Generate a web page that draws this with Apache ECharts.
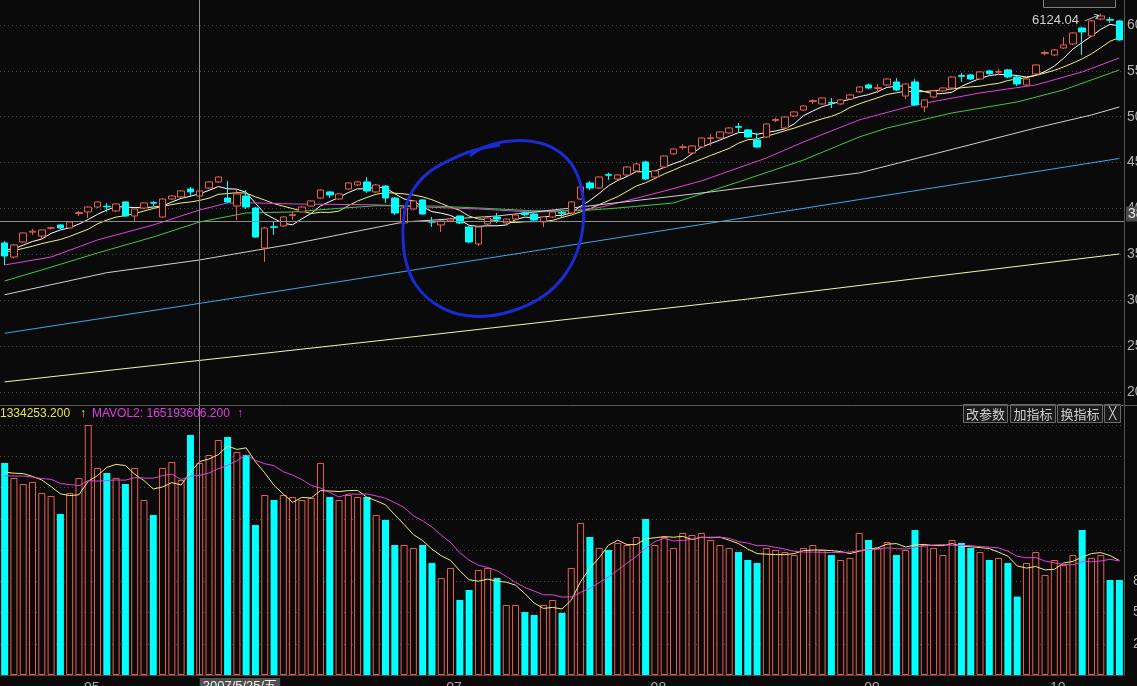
<!DOCTYPE html>
<html>
<head>
<meta charset="utf-8">
<script src="https://cdn.jsdelivr.net/npm/echarts@6/dist/echarts.min.js"></script>
<style>html,body{margin:0;padding:0;background:#0a0a0a;overflow:hidden}#c{width:1137px;height:686px}</style>
</head>
<body>
<div id="c"></div>
<script>
// ---------- data ----------
const tradingDays = [
  ['2007-04', [19,20,23,24,25,26,27,30]],
  ['2007-05', [8,9,10,11,14,15,16,17,18,21,22,23,24,25,28,29,30,31]],
  ['2007-06', [1,4,5,6,7,8,11,12,13,14,15,18,19,20,21,22,25,26,27,28,29]],
  ['2007-07', [2,3,4,5,6,9,10,11,12,13,16,17,18,19,20,23,24,25,26,27,30,31]],
  ['2007-08', [1,2,3,6,7,8,9,10,13,14,15,16,17,20,21,22,23,24,27,28,29,30,31]],
  ['2007-09', [3,4,5,6,7,10,11,12,13,14,17,18,19,20,21,24,25,26,27,28]],
  ['2007-10', [8,9,10,11,12,15,16,17,18]]
];
const monthTickLabels = ['05','07','08','09','10'];

const opens = [3624,3471,3635,3742,3700,3785,3820,3787,3945,3962,
4016,4025,3973,4071,3918,4005,4065,3907,4103,4125,
4212,4136,4223,4289,4114,4027,4136,4005,3569,3800,
3809,3925,3962,4027,4114,4180,4103,4212,4256,4289,
4180,4245,4114,3842,3994,4093,3858,3820,3864,3918,
3798,3613,3831,3907,3842,3885,3952,3940,3853,3907,
3955,3951,4103,4278,4223,4370,4321,4365,4409,4507,
4343,4452,4595,4665,4605,4670,4762,4768,4823,4892,
4856,4747,4779,4960,4877,5008,5073,5165,5139,5155,
5139,5193,5270,5346,5308,5346,5379,5226,5379,5106,
5215,5281,5313,5449,5455,5411,5499,5485,5510,5433,
5346,5466,5690,5673,5749,5793,5967,5880,6065,6060,
6044];
const closes = [3482,3602,3733,3752,3766,3790,3787,3853,3955,4016,
4071,4018,4049,3918,3994,4060,4058,4103,4136,4191,
4180,4191,4289,4343,4071,4158,4016,3689,3787,3795,
3907,3932,4016,4082,4201,4147,4158,4278,4289,4191,
4256,4114,3951,4005,4082,3940,3850,3864,3885,3842,
3635,3798,3896,3885,3885,3929,3932,3874,3907,3962,
3948,4071,4234,4223,4343,4362,4365,4452,4485,4321,
4409,4572,4648,4672,4681,4768,4770,4834,4877,4885,
4779,4670,4921,4970,4997,5052,5117,5175,5204,5148,
5183,5237,5324,5313,5316,5411,5292,5357,5128,5183,
5281,5313,5433,5440,5411,5488,5470,5492,5433,5357,
5411,5564,5700,5728,5782,5913,5924,6044,6098,6052,
5837];
const lows = [3384,3455,3625,3711,3667,3770,3775,3780,3918,3896,
4005,3962,3960,3910,3864,3995,4027,3900,4093,4114,
4125,4125,4212,4280,4060,3874,3994,3680,3417,3711,
3798,3874,3955,4020,4105,4114,4095,4205,4245,4169,
4170,4060,3929,3820,3984,3930,3798,3744,3850,3830,
3620,3591,3820,3842,3831,3874,3918,3864,3798,3896,
3907,3940,4093,4201,4212,4310,4310,4355,4400,4310,
4330,4440,4585,4640,4595,4660,4681,4760,4815,4823,
4770,4660,4770,4940,4870,4995,5065,5140,5130,5095,
5130,5185,5260,5300,5259,5335,5280,5193,5115,5052,
5205,5270,5300,5379,5400,5400,5455,5455,5420,5335,
5335,5455,5670,5660,5740,5780,5673,5870,6050,6022,
5830];
const highs = [3646,3612,3740,3777,3770,3800,3826,3858,3973,4022,
4080,4060,4055,4082,4000,4065,4082,4110,4145,4197,
4234,4197,4295,4350,4300,4201,4201,4016,3800,3853,
3915,3962,4022,4090,4210,4191,4165,4285,4300,4343,
4265,4256,4125,4016,4090,4100,3907,3870,3900,3925,
3805,3805,3905,3951,3890,3935,3962,3951,3915,3970,
3973,4080,4240,4300,4350,4390,4372,4460,4495,4520,
4415,4580,4655,4700,4690,4775,4812,4840,4885,4932,
4865,4823,4930,4990,5005,5060,5125,5190,5210,5204,
5190,5245,5330,5360,5357,5420,5422,5365,5411,5190,
5290,5320,5440,5477,5466,5495,5510,5521,5520,5440,
5420,5570,5720,5740,5870,5920,5980,6055,6124.04,6087,
6055];
// closes of the 9 sessions before the first visible one (for MA5/MA10 warm-up)
const priorCloses = [3470,3490,3515,3480,3569,3560,3519,3556,3631];

// volume, millions of lots
const volumes = [186.6,173.4,168.1,169.8,160.2,157.5,141.7,160.2,173.4,220.0,
182.2,177.8,173.4,168.1,182.2,154.0,140.8,182.2,187.4,171.6,
211.2,186.6,193.6,206.8,209.4,196.2,193.6,132.0,158.4,154.0,
158.4,156.6,154.0,155.8,186.6,156.6,154.0,158.4,156.6,156.6,
140.8,136.4,114.4,114.4,111.8,114.4,98.6,85.4,94.2,66.0,
74.8,92.4,94.2,85.4,61.6,61.6,55.4,52.8,61.6,66.0,
54.6,94.2,133.8,121.4,111.8,110.0,116.2,114.4,121.4,137.3,
114.4,121.4,111.8,125.0,123.2,125.0,118.8,114.4,111.8,108.2,
101.2,98.6,111.8,110.0,108.2,105.6,111.8,114.4,110.0,105.6,
101.2,103.0,125.0,118.8,111.8,117.0,105.6,110.0,127.6,114.4,
111.8,105.6,118.8,116.2,111.8,108.2,101.2,103.0,98.6,69.0,
98.6,108.2,88.0,101.2,96.8,105.6,127.6,103.0,105.6,83.6,
83.6];
const priorVolumes = [175,168,180,172,165,178,170,182,176];

// longer moving averages: [session index, value]
const ma20Pts = [[0,3384],[5,3471],[10,3657],[16,3820],[21,3984],[24,4060],[27,4060],[31,4049],[35,4045],[40,4040],[45,4016],[51,3994],[57,3960],[61,3975],[64,4010],[67,4085],[71,4190],[75,4300],[82,4550],[86,4725],[92,4965],[98,5128],[105,5259],[111,5346],[116,5488],[120,5640]];
const ma30Pts = [[0,3210],[4,3330],[10,3515],[16,3689],[21,3853],[26,3951],[31,3962],[35,3994],[40,4030],[46,4027],[51,4005],[57,3975],[62,3975],[66,4005],[72,4060],[79,4289],[86,4528],[92,4779],[95,4877],[102,5041],[109,5161],[114,5292],[120,5510]];
const ma60Pts = [[0,3060],[11,3300],[21,3439],[31,3613],[43,3853],[53,3918],[61,4005],[76,4180],[92,4387],[103,4670],[111,4877],[117,5019],[120,5106]];
const ma120Pts = [[0,2640],[20,2950],[40,3265],[60,3585],[80,3905],[100,4225],[120,4545]];
const ma250Pts = [[0,2110],[40,2556],[80,3013],[120,3504]];

const crossIndex = 21;
const crossPrice = 3856.71;

// ---------- derived ----------
const dates = [];
tradingDays.forEach(([m, days]) => days.forEach(d => dates.push(m + '-' + String(d).padStart(2, '0'))));
const candles = opens.map((o, i) => [o, closes[i], lows[i], highs[i]]);
function movingAvg(values, prior, n) {
  const all = prior.concat(values);
  return values.map((_, i) => {
    let s = 0;
    for (let k = 0; k < n; k++) s += all[prior.length + i - k];
    return +(s / n).toFixed(2);
  });
}
const ma5 = movingAvg(closes, priorCloses, 5);
const ma10 = movingAvg(closes, priorCloses, 10);
const mavol1 = movingAvg(volumes, priorVolumes, 5);
const mavol2 = movingAvg(volumes, priorVolumes, 10);

const UP = '#e8604c', DOWN = '#00ffff', BG = '#0a0a0a';
const volData = volumes.map((v, i) => {
  const up = closes[i] >= opens[i];
  return { value: v, itemStyle: up ? { color: BG, borderColor: UP, borderWidth: 1 } : { color: DOWN, borderColor: DOWN, borderWidth: 0 } };
});
const monthLabel = dates.map((d, i) => {
  const mm = d.slice(5, 7);
  if (i === 0 || dates[i - 1].slice(5, 7) === mm) return '';
  return monthTickLabels.includes(mm) ? mm : '';
});

const FONT = 'Liberation Sans';
function lineSeries(name, data, color) {
  return { name, type: 'line', xAxisIndex: 0, yAxisIndex: 0, data, symbol: 'none', showSymbol: false,
    lineStyle: { color, width: 1 }, silent: true, z: 3 };
}

const chart = echarts.init(document.getElementById('c'));
const option = {
  backgroundColor: BG,
  animation: false,
  grid: [
    { left: 0, right: 13, top: 0, height: 405, containLabel: false, outerBoundsMode: 'none' },
    { left: 0, right: 13, top: 405, height: 270, containLabel: false, outerBoundsMode: 'none' }
  ],
  xAxis: [
    { type: 'category', gridIndex: 0, data: dates, axisLine: { show: false }, axisTick: { show: false }, axisLabel: { show: false }, splitLine: { show: false } },
    { type: 'category', gridIndex: 1, data: dates, axisLine: { show: true, lineStyle: { color: '#6a3c38' } }, axisTick: { show: false },
      axisLabel: { interval: 0, formatter: (v, i) => monthLabel[i], color: '#a8a8a8', fontSize: 14, fontFamily: FONT, align: 'left', margin: 6, padding: [0, 0, 0, 5] },
      splitLine: { show: false } }
  ],
  yAxis: [
    { type: 'value', gridIndex: 0, position: 'right', min: 1858, max: 6272, splitNumber: 9, minInterval: 500, maxInterval: 500,
      axisLine: { show: true, lineStyle: { color: '#555555' } }, axisTick: { show: false },
      axisLabel: { color: '#b0b0b0', fontSize: 14, fontFamily: FONT, margin: 3, showMinLabel: false, showMaxLabel: false, formatter: v => String(v) },
      splitLine: { show: true, showMinLine: false, showMaxLine: false, lineStyle: { color: '#4c4c4c', type: [1, 3] } } },
    { type: 'value', gridIndex: 1, position: 'right', min: 0, max: 237.6, interval: 27.5,
      axisLine: { show: true, lineStyle: { color: '#555555' } }, axisTick: { show: false },
      axisLabel: { color: '#b0b0b0', fontSize: 14, fontFamily: FONT, margin: 9, showMaxLabel: false,
        formatter: v => (v > 0 && v < 90) ? String(Math.round(v * 1e6)) : '' },
      splitLine: { show: true, showMaxLine: false, lineStyle: { color: '#4c4c4c', type: [1, 3] } } }
  ],
  series: [
    { name: 'K', type: 'candlestick', xAxisIndex: 0, yAxisIndex: 0, data: candles, barWidth: 7, z: 4,
      itemStyle: { color: BG, color0: DOWN, borderColor: UP, borderColor0: DOWN, borderWidth: 1 },
      markPoint: {
        silent: true,
        data: [{ type: 'max', valueDim: 'highest' }],
        symbol: 'path://M0,7L14,1M9,0L14,1L11,5',
        symbolSize: [14, 7], symbolOffset: [-9, 4], symbolKeepAspect: false,
        itemStyle: { color: 'rgba(0,0,0,0)', borderColor: '#c8c8c8', borderWidth: 1 },
        label: { show: true, position: 'left', distance: 5, offset: [0, 3], formatter: p => p.value.toFixed(2), color: '#d0d0d0', fontSize: 13, fontFamily: FONT }
      },
      markLine: {
        silent: true, symbol: ['none', 'none'],
        lineStyle: { color: '#8c8c8c', type: 'solid', width: 1 },
        data: [
          { yAxis: crossPrice, label: { show: true, position: 'end', distance: 2, formatter: crossPrice.toFixed(2), color: '#e8e8e8', backgroundColor: '#4a4a4a', padding: [1, 2, 0, 2], fontSize: 14, fontFamily: FONT, verticalAlign: 'bottom' } },
          { xAxis: crossIndex, label: { show: false } }
        ]
      }
    },
    lineSeries('MA5', ma5, '#ffffff'),
    lineSeries('MA10', ma10, '#f2f27a'),
    lineSeries('MA20', ma20Pts, '#e040e0'),
    lineSeries('MA30', ma30Pts, '#40c840'),
    lineSeries('MA60', ma60Pts, '#d0d0d0'),
    lineSeries('MA120', ma120Pts, '#3aa8e8'),
    lineSeries('MA250', ma250Pts, '#f4f4b0'),
    { name: 'VOL', type: 'bar', xAxisIndex: 1, yAxisIndex: 1, data: volData, barWidth: 7, z: 2,
      markLine: {
        silent: true, symbol: ['none', 'none'],
        lineStyle: { color: '#8c8c8c', type: 'solid', width: 1 },
        data: [{ xAxis: crossIndex, label: { show: true, position: 'start', distance: 3, align: 'left', verticalAlign: 'top',
          formatter: '2007/5/25/五', color: '#f0f0f0', backgroundColor: '#505050', padding: [2, 3, 2, 3], fontSize: 13, fontFamily: FONT } }]
      }
    },
    { name: 'MAVOL1', type: 'line', xAxisIndex: 1, yAxisIndex: 1, data: mavol1, symbol: 'none', lineStyle: { color: '#f0f070', width: 1 }, z: 3 },
    { name: 'MAVOL2', type: 'line', xAxisIndex: 1, yAxisIndex: 1, data: mavol2, symbol: 'none', lineStyle: { color: '#e040e0', width: 1 }, z: 3 }
  ],
  graphic: [
    { type: 'line', shape: { x1: 0, y1: 405.5, x2: 1137, y2: 405.5 }, style: { stroke: '#5a5a5a', lineWidth: 1 }, z: 10 },
    { type: 'rect', shape: { x: 1043.5, y: -3.5, width: 72, height: 11 }, style: { fill: '#141414', stroke: '#808080', lineWidth: 1 }, z: 10 },
    { type: 'text', x: 0, y: 414, style: { text: '1334253.200', fill: '#e6e64a', font: '12px ' + FONT, textVerticalAlign: 'middle' }, z: 10 },
    { type: 'text', x: 80, y: 414, style: { text: '↑', fill: '#e6e64a', font: '12px ' + FONT, textVerticalAlign: 'middle' }, z: 10 },
    { type: 'text', x: 92, y: 414, style: { text: 'MAVOL2: 165193606.200', fill: '#e040e0', font: '12px ' + FONT, textVerticalAlign: 'middle' }, z: 10 },
    { type: 'text', x: 237, y: 414, style: { text: '↑', fill: '#e040e0', font: '12px ' + FONT, textVerticalAlign: 'middle' }, z: 10 },
    { type: 'group', z: 10, children: [
      { type: 'rect', shape: { x: 963.5, y: 404.5, width: 44, height: 18 }, style: { fill: '#1a1a1a', stroke: '#6a6a6a' } },
      { type: 'text', x: 985.5, y: 414, style: { text: '改参数', fill: '#cfcfcf', font: '13px "Noto Sans CJK SC"', textAlign: 'center', textVerticalAlign: 'middle' } },
      { type: 'rect', shape: { x: 1010.5, y: 404.5, width: 45, height: 18 }, style: { fill: '#1a1a1a', stroke: '#6a6a6a' } },
      { type: 'text', x: 1033, y: 414, style: { text: '加指标', fill: '#cfcfcf', font: '13px "Noto Sans CJK SC"', textAlign: 'center', textVerticalAlign: 'middle' } },
      { type: 'rect', shape: { x: 1057.5, y: 404.5, width: 45, height: 18 }, style: { fill: '#1a1a1a', stroke: '#6a6a6a' } },
      { type: 'text', x: 1080, y: 414, style: { text: '换指标', fill: '#cfcfcf', font: '13px "Noto Sans CJK SC"', textAlign: 'center', textVerticalAlign: 'middle' } },
      { type: 'rect', shape: { x: 1104.5, y: 404.5, width: 16, height: 18 }, style: { fill: '#1a1a1a', stroke: '#6a6a6a' } },
      { type: 'text', x: 1112.5, y: 414, style: { text: '╳', fill: '#cfcfcf', font: '12px "DejaVu Sans"', textAlign: 'center', textVerticalAlign: 'middle' } }
    ] },
    { type: 'polyline', z: 20, silent: true,
      shape: { smooth: 0.35, points: [[470,156],[482,148],[510,141],[540,143],[562,154],[576,172],[583,197],[583,226],[577,252],[564,276],[545,295],[518,309],[488,316],[458,314],[434,303],[416,285],[406,262],[403,236],[405,210],[413,190],[428,173],[448,161],[472,151],[500,145]] },
      style: { stroke: '#1c2ad4', lineWidth: 3, fill: null } }
  ]
};
chart.setOption(option);
</script>
</body>
</html>
